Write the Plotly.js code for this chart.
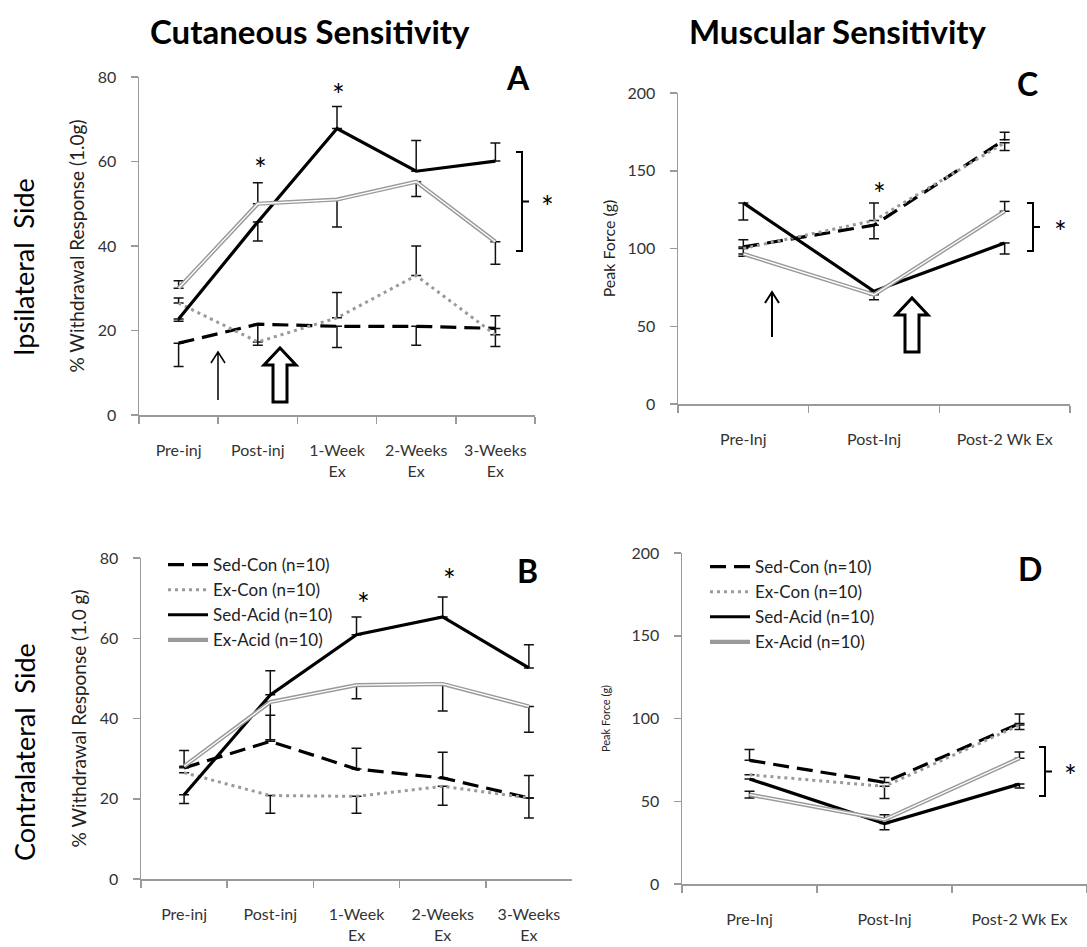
<!DOCTYPE html>
<html>
<head>
<meta charset="utf-8">
<script src="https://cdn.plot.ly/plotly-3.0.1.min.js"></script>
<style>html,body{margin:0;padding:0;background:#fff}#chart{width:1087px;height:947px}</style>
</head>
<body>
<div id="chart"></div>
<script>
// ---------- Data ----------
const cutCats = ['Pre-inj', 'Post-inj', '1-Week<br>Ex', '2-Weeks<br>Ex', '3-Weeks<br>Ex'];
const musCatsC = ['Pre-Inj', 'Post-Inj', 'Post-2 Wk Ex'];
const musCatsD = ['Pre-Inj', 'Post-Inj', 'Post-2 Wk Ex'];
const seriesNames = ['Sed-Con (n=10)', 'Ex-Con (n=10)', 'Sed-Acid (n=10)', 'Ex-Acid (n=10)'];

// Panel A: Cutaneous, ipsilateral
const aSedCon = [17, 21.5, 21, 21, 20.5];
const aSedConUp = [0, 0, 0, 0, 0];
const aSedConDn = [5.5, 5, 5, 4.5, 4.3];
const aExCon = [26.5, 17.3, 23, 33, 19];
const aExConUp = [1.2, 0, 6, 7, 4.5];
const aExConDn = [0, 0, 0, 0, 0];
const aSedAcid = [22.7, 45.7, 67.8, 57.7, 60.1];
const aSedAcidUp = [0, 0, 5.2, 7.3, 4.3];
const aSedAcidDn = [0.5, 4.5, 0, 0, 0];
const aExAcid = [30, 50, 51, 55.2, 41];
const aExAcidUp = [1.8, 5, 0, 0, 0];
const aExAcidDn = [0, 0, 6.5, 3.5, 5.3];

// Panel B: Cutaneous, contralateral
const bSedCon = [27.7, 34.3, 27.4, 25.2, 20.2];
const bSedConUp = [4.3, 6.5, 5.2, 6.4, 5.6];
const bSedConDn = [0, 0, 0, 0, 0];
const bExCon = [26.5, 20.8, 20.6, 23.1, 20.2];
const bExConUp = [0, 0, 0, 0, 0];
const bExConDn = [0, 4.4, 4.2, 4.7, 5];
const bSedAcid = [21, 45.9, 60.9, 65.3, 52.6];
const bSedAcidUp = [0, 6, 4.4, 5, 5.8];
const bSedAcidDn = [2.2, 0, 0, 0, 0];
const bExAcid = [28.1, 44.1, 48.3, 48.6, 43];
const bExAcidUp = [0, 0, 0, 0, 0];
const bExAcidDn = [0, 9.4, 3.4, 6.7, 6.4];

// Panel C: Muscular, ipsilateral
const cSedCon = [101, 115, 170];
const cSedConUp = [0, 0, 4.7];
const cSedConDn = [6, 8.7, 0];
const cExCon = [100, 118, 168];
const cExConUp = [5.7, 11.3, 0];
const cExConDn = [0, 0, 5];
const cSedAcid = [129.3, 72.5, 103.5];
const cSedAcidUp = [0, 0, 0];
const cSedAcidDn = [11, 0, 7];
const cExAcid = [96.5, 70.3, 124];
const cExAcidUp = [0, 0, 6.3];
const cExAcidDn = [0, 3.3, 0];

// Panel D: Muscular, contralateral
const dSedCon = [74.7, 61.4, 97];
const dSedConUp = [6.5, 3, 5.7];
const dSedConDn = [0, 0, 0];
const dExCon = [66, 59, 96];
const dExConUp = [0, 0, 0];
const dExConDn = [0, 7.4, 2.7];
const dSedAcid = [63.5, 36.5, 60.4];
const dSedAcidUp = [0, 0, 0];
const dSedAcidDn = [0, 3.7, 2.4];
const dExAcid = [54, 38.9, 76];
const dExAcidUp = [2, 3, 3.8];
const dExAcidDn = [2, 0, 0];

// ---------- Helpers ----------
const W = 1087, H = 947;
const px = x => x / W;
const py = y => 1 - y / H;
const FONT = 'Lato, "Open Sans", "DejaVu Sans", sans-serif';

const STY = {
  sedCon: {color: '#000', width: 3.2, dash: '16px,8px'},
  exCon: {color: '#9a9a9a', width: 3, dash: '3px,4px'},
  sedAcid: {color: '#000', width: 3.2, dash: 'solid'},
  exAcid: {color: '#9a9a9a', width: 4.2, dash: 'solid'}
};

function errs(up, dn) {
  return {type: 'data', symmetric: false, array: up, arrayminus: dn,
          color: '#111', thickness: 1.5, width: 5};
}

function panel(xa, ya, cats, sc, scU, scD, ec, ecU, ecD, sa, saU, saD, ea, eaU, eaD, legend) {
  const show = !!legend;
  const base = {type: 'scatter', mode: 'lines', xaxis: xa, yaxis: ya, x: cats, hoverinfo: 'skip'};
  const lg = g => legend ? {legend: legend, legendgroup: legend + g} : {};
  return [
    Object.assign({}, base, lg('a'), {name: seriesNames[0], y: sc, line: STY.sedCon, error_y: errs(scU, scD), showlegend: show}),
    Object.assign({}, base, lg('b'), {name: seriesNames[1], y: ec, line: STY.exCon, error_y: errs(ecU, ecD), showlegend: show}),
    Object.assign({}, base, lg('c'), {name: seriesNames[2], y: sa, line: STY.sedAcid, error_y: errs(saU, saD), showlegend: show}),
    Object.assign({}, base, lg('d'), {name: seriesNames[3], y: ea, line: STY.exAcid, error_y: errs(eaU, eaD), showlegend: show}),
    Object.assign({}, base, {name: seriesNames[3] + ' inner', y: ea, line: {color: '#ffffff', width: 1.3}, showlegend: false})
  ];
}

const data = [].concat(
  panel('x', 'y', cutCats, aSedCon, aSedConUp, aSedConDn, aExCon, aExConUp, aExConDn, aSedAcid, aSedAcidUp, aSedAcidDn, aExAcid, aExAcidUp, aExAcidDn, null),
  panel('x2', 'y2', musCatsC, cSedCon, cSedConUp, cSedConDn, cExCon, cExConUp, cExConDn, cSedAcid, cSedAcidUp, cSedAcidDn, cExAcid, cExAcidUp, cExAcidDn, null),
  panel('x3', 'y3', cutCats, bSedCon, bSedConUp, bSedConDn, bExCon, bExConUp, bExConDn, bSedAcid, bSedAcidUp, bSedAcidDn, bExAcid, bExAcidUp, bExAcidDn, 'legend'),
  panel('x4', 'y4', musCatsD, dSedCon, dSedConUp, dSedConDn, dExCon, dExConUp, dExConDn, dSedAcid, dSedAcidUp, dSedAcidDn, dExAcid, dExAcidUp, dExAcidDn, 'legend2')
);

function xAxis(domain, anchor, n) {
  return {domain: domain, anchor: anchor, type: 'category', range: [-0.5, n - 0.5],
    showline: true, linecolor: '#9a9a9a', linewidth: 1.5, showgrid: false, zeroline: false,
    ticks: 'outside', tickson: 'boundaries', ticklen: 7, tickwidth: 1.5, tickcolor: '#9a9a9a',
    tickfont: {family: FONT, size: 16, color: '#333'}, ticklabelstandoff: 20, fixedrange: true};
}
function yAxis(domain, anchor, max, dtick, title, tsize, standoff) {
  return {domain: domain, anchor: anchor, range: [0, max], dtick: dtick,
    showline: true, linecolor: '#9a9a9a', linewidth: 1.5, showgrid: false, zeroline: false,
    ticks: 'outside', ticklen: 7, tickwidth: 1.5, tickcolor: '#9a9a9a',
    tickfont: {family: FONT, size: 16, color: '#333'}, ticklabelstandoff: 11,
    title: {text: title, font: {family: FONT, size: tsize, color: '#222'}, standoff: standoff},
    fixedrange: true};
}

const legendCommon = {xanchor: 'left', yanchor: 'top', bgcolor: 'rgba(0,0,0,0)',
  font: {family: FONT, size: 17, color: '#222'}, tracegroupgap: 0, itemwidth: 40, traceorder: 'grouped'};

const layout = {
  width: W, height: H,
  margin: {l: 0, r: 0, t: 0, b: 0},
  paper_bgcolor: '#fff', plot_bgcolor: '#fff',
  font: {family: FONT, color: '#222'},
  xaxis: xAxis([px(139), px(535)], 'y', 5),
  yaxis: yAxis([py(415), py(77)], 'x', 80, 20, '% Withdrawal Response (1.0g)', 19, 8),
  xaxis2: xAxis([px(678), px(1070)], 'y2', 3),
  yaxis2: yAxis([py(404), py(93)], 'x2', 200, 50, 'Peak Force (g)', 16, 8),
  xaxis3: xAxis([px(141), px(572)], 'y3', 5),
  yaxis3: yAxis([py(879), py(558)], 'x3', 80, 20, '% Withdrawal Response (1.0 g)', 19, 8),
  xaxis4: xAxis([px(682), 1], 'y4', 3),
  yaxis4: yAxis([py(884), py(553)], 'x4', 200, 50, 'Peak Force (g)', 11, 18),
  legend: Object.assign({}, legendCommon, {x: px(163), y: py(547)}),
  legend2: Object.assign({}, legendCommon, {x: px(705), y: py(549)}),
  annotations: [],
  shapes: []
};

const ann = layout.annotations;
function txt(x, y, text, size, opts) {
  ann.push(Object.assign({xref: 'paper', yref: 'paper', x: px(x), y: py(y), text: text, showarrow: false,
    xanchor: 'center', yanchor: 'middle', font: {family: FONT, size: size, color: '#000'}}, opts || {}));
}
// Titles
txt(310, 31, '<b>Cutaneous Sensitivity</b>', 33);
txt(838, 31, '<b>Muscular Sensitivity</b>', 33);
txt(24, 267, 'Ipsilateral  Side', 27, {textangle: -90});
txt(24, 752, 'Contralateral  Side', 27, {textangle: -90});
// Panel letters
txt(518, 77, '<b>A</b>', 32);
txt(1027, 83, '<b>C</b>', 32);
txt(527, 570, '<b>B</b>', 32);
txt(1030, 568, '<b>D</b>', 32);
// Asterisks
const AS = 30;
txt(260, 168, '*', AS);
txt(338, 94, '*', AS);
txt(547, 206, '*', AS);
txt(879, 193, '*', AS);
txt(1060, 231, '*', AS);
txt(363, 603, '*', AS);
txt(449, 579, '*', AS);
txt(1070, 775, '*', AS);

const shp = layout.shapes;
function pathShape(ax, ay, path, fill, lw) {
  shp.push({type: 'path', xref: 'paper', yref: 'paper', xsizemode: 'pixel', ysizemode: 'pixel',
    xanchor: px(ax), yanchor: py(ay), path: path, fillcolor: fill || 'rgba(0,0,0,0)',
    line: {color: '#000', width: lw || 1.5}});
}
// thin arrows (anchor at tail)
pathShape(218, 400, 'M0,0 L0,48 M-7,37 L0,48 L7,37', null, 1.5);
pathShape(772, 337, 'M0,0 L0,45 M-7,34 L0,45 L7,34', null, 2);
// hollow block arrows
const block = 'M-7,0 L7,0 L7,37 L16,37 L0,54 L-16,37 L-7,37 Z';
pathShape(280, 402, block, '#fff', 3);
pathShape(912, 352, block, '#fff', 3);
// brackets (anchor at middle)
function bracket(x, y0, y1) {
  const h = (y1 - y0) / 2;
  pathShape(x, (y0 + y1) / 2, `M-6,${h} L0,${h} L0,${-h} L-6,${-h} M0,0 L7,0`, null, 2);
}
bracket(522, 152, 251);
bracket(1033, 203, 251);
bracket(1045, 747, 796);

Plotly.newPlot('chart', data, layout, {displayModeBar: false, staticPlot: true});
</script>
</body>
</html>
